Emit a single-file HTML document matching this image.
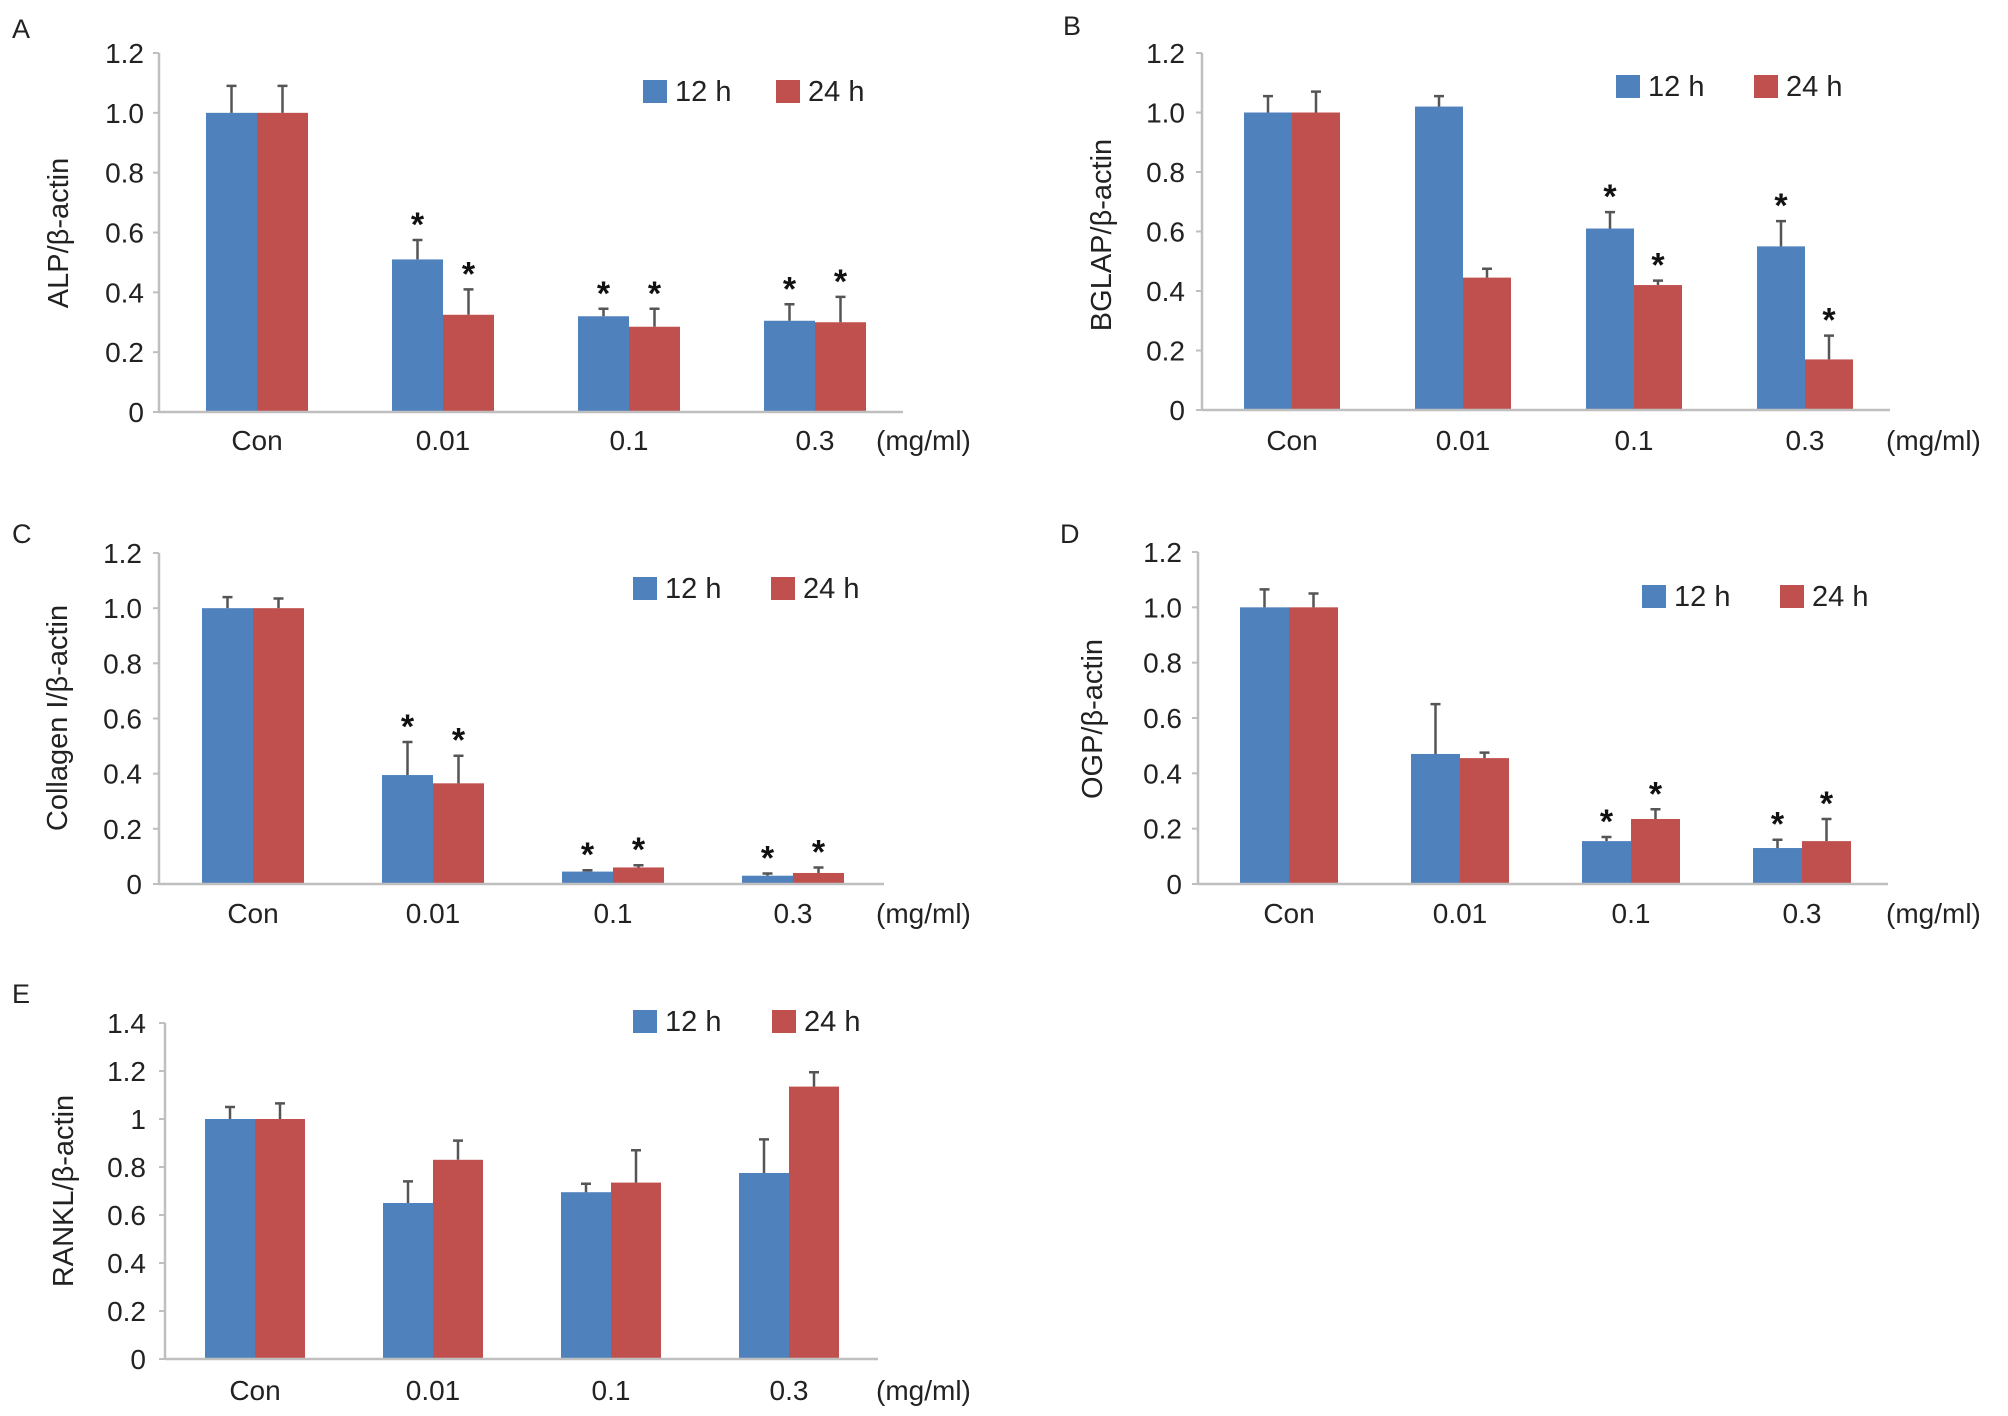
<!DOCTYPE html>
<html><head><meta charset="utf-8"><style>
html,body{margin:0;padding:0;background:#fff;}
svg{display:block;font-family:"Liberation Sans",Arial,sans-serif;}
</style></head><body>
<svg id="fig" width="2008" height="1416" viewBox="0 0 2008 1416" xmlns="http://www.w3.org/2000/svg"></svg>
<script>
const categories = ["Con","0.01","0.1","0.3"];
// Panel A
const aBlue = [1.0,0.51,0.32,0.305];
const aBlueErr = [0.09,0.065,0.025,0.055];
const aRed = [1.0,0.325,0.285,0.30];
const aRedErr = [0.09,0.085,0.06,0.085];
const aBlueStar = [false,true,true,true];
const aRedStar = [false,true,true,true];
const aTicks = ["0","0.2","0.4","0.6","0.8","1.0","1.2"];
// Panel B
const bBlue = [1.0,1.02,0.61,0.55];
const bBlueErr = [0.055,0.035,0.055,0.085];
const bRed = [1.0,0.445,0.42,0.17];
const bRedErr = [0.07,0.03,0.015,0.08];
const bBlueStar = [false,false,true,true];
const bRedStar = [false,false,true,true];
const bTicks = ["0","0.2","0.4","0.6","0.8","1.0","1.2"];
// Panel C
const cBlue = [1.0,0.395,0.045,0.03];
const cBlueErr = [0.04,0.12,0.005,0.008];
const cRed = [1.0,0.365,0.06,0.04];
const cRedErr = [0.035,0.10,0.008,0.02];
const cBlueStar = [false,true,true,true];
const cRedStar = [false,true,true,true];
const cTicks = ["0","0.2","0.4","0.6","0.8","1.0","1.2"];
// Panel D
const dBlue = [1.0,0.47,0.155,0.13];
const dBlueErr = [0.065,0.18,0.015,0.03];
const dRed = [1.0,0.455,0.235,0.155];
const dRedErr = [0.05,0.02,0.035,0.08];
const dBlueStar = [false,false,true,true];
const dRedStar = [false,false,true,true];
const dTicks = ["0","0.2","0.4","0.6","0.8","1.0","1.2"];
// Panel E
const eBlue = [1.0,0.65,0.695,0.775];
const eBlueErr = [0.05,0.09,0.035,0.14];
const eRed = [1.0,0.83,0.735,1.135];
const eRedErr = [0.065,0.08,0.135,0.06];
const eBlueStar = [false,false,false,false];
const eRedStar = [false,false,false,false];
const eTicks = ["0","0.2","0.4","0.6","0.8","1","1.2","1.4"];
const seriesNames = ["12 h","24 h"];

const NS="http://www.w3.org/2000/svg";
const svg=document.getElementById('fig');
function mk(tag,attrs,parent,text){const e=document.createElementNS(NS,tag);for(const k in attrs)e.setAttribute(k,attrs[k]);if(text!==undefined)e.textContent=text;(parent||svg).appendChild(e);return e;}
const BLUE="#4f81bd",RED="#c0504d",AX="#bfbfbf";

function panel(p){
  const g=mk('g',{});
  
  
  const maxV=(p.ticks.length-1)*0.2;
  const y=v=>p.base-(v/maxV)*(p.base-p.top);
  const cx=i=>p.c0+i*p.step;
  const lt=mk('text',{x:p.lx,y:p.ly,'font-size':27,fill:'#222'},g,p.letter);
  
  
  const ya=mk('line',{x1:p.ax,y1:p.top,x2:p.ax,y2:p.base,stroke:AX,'stroke-width':2.5},g);
  
  
  p.ticks.forEach((t,i)=>{
    const v=i*0.2;
    mk('line',{x1:p.ax-6,y1:y(v),x2:p.ax,y2:y(v),stroke:AX,'stroke-width':2},g);
    const tt=mk('text',{x:p.tx,y:y(v)+10,'font-size':28,'text-anchor':'end',fill:'#222'},g,t);
    
    
  });
  const yt=mk('text',{x:0,y:0,'font-size':29,'text-anchor':'middle',fill:'#222',transform:`translate(${p.ytx},${p.yty}) rotate(-90)`},g,p.ytitle);
  
  
  const series=[[p.blue,p.blueErr,p.blueStar,BLUE,-1],[p.red,p.redErr,p.redStar,RED,0]];
  series.forEach((s,si)=>{
    s[0].forEach((v,i)=>{
      const x=cx(i)+s[4]*p.bw;
      const r=mk('rect',{x:x,y:y(v),width:p.bw,height:p.base-y(v),fill:s[3]},g);
      
      
      const m=x+p.bw/2, te=y(v+s[1][i]);
      const eb=mk('path',{d:`M${m},${y(v)}V${te}M${m-5},${te}H${m+5}`,stroke:'#555','stroke-width':2.5,fill:'none'},g);
      
      
      if(s[2][i]){
        const st=mk('text',{x:m,y:te-4,'font-size':34,'font-weight':'bold','text-anchor':'middle',fill:'#111'},g,'*');
        
        
      }
    });
  });
  const xa=mk('line',{x1:p.ax,y1:p.base,x2:p.xend,y2:p.base,stroke:AX,'stroke-width':2.5},g);
  
  
  categories.forEach((c,i)=>{
    const ct=mk('text',{x:cx(i),y:p.cy+10,'font-size':28,'text-anchor':'middle',fill:'#222'},g,c);
    
    
  });
  const un=mk('text',{x:p.ux,y:p.cy+10,'font-size':28,fill:'#222'},g,'(mg/ml)');
  
  
  [[p.lg[0],BLUE,seriesNames[0]],[p.lg[1],RED,seriesNames[1]]].forEach((l,i)=>{
    const lg=mk('g',{},g);
    
    
    mk('rect',{x:l[0],y:p.lgy,width:24,height:23,fill:l[1]},lg);
    mk('text',{x:l[0]+32,y:p.lgy+21,'font-size':29,fill:'#222'},lg,l[2]);
  });
}
panel({letter:'A',lx:12,ly:38,ax:159,top:53,base:412,xend:903,tx:144,ytx:68,yty:233,ytitle:'ALP/β-actin',
  c0:257,step:186,bw:51,cy:440,ux:876,lg:[643,776],lgy:80,
  blue:aBlue,blueErr:aBlueErr,red:aRed,redErr:aRedErr,blueStar:aBlueStar,redStar:aRedStar,ticks:aTicks});
panel({letter:'B',lx:1063,ly:35,ax:1202,top:53,base:410,xend:1890,tx:1185,ytx:1111,yty:235,ytitle:'BGLAP/β-actin',
  c0:1292,step:171,bw:48,cy:440,ux:1886,lg:[1616,1754],lgy:75,
  blue:bBlue,blueErr:bBlueErr,red:bRed,redErr:bRedErr,blueStar:bBlueStar,redStar:bRedStar,ticks:bTicks});
panel({letter:'C',lx:12,ly:543,ax:159,top:553,base:884,xend:884,tx:142,ytx:67,yty:718,ytitle:'Collagen I/β-actin',
  c0:253,step:180,bw:51,cy:913,ux:876,lg:[633,771],lgy:577,
  blue:cBlue,blueErr:cBlueErr,red:cRed,redErr:cRedErr,blueStar:cBlueStar,redStar:cRedStar,ticks:cTicks});
panel({letter:'D',lx:1060,ly:543,ax:1198,top:552,base:884,xend:1888,tx:1182,ytx:1102,yty:719,ytitle:'OGP/β-actin',
  c0:1289,step:171,bw:49,cy:913,ux:1886,lg:[1642,1780],lgy:585,
  blue:dBlue,blueErr:dBlueErr,red:dRed,redErr:dRedErr,blueStar:dBlueStar,redStar:dRedStar,ticks:dTicks});
panel({letter:'E',lx:12,ly:1003,ax:165,top:1023,base:1359,xend:878,tx:146,ytx:73,yty:1191,ytitle:'RANKL/β-actin',
  c0:255,step:178,bw:50,cy:1390,ux:876,lg:[633,772],lgy:1010,
  blue:eBlue,blueErr:eBlueErr,red:eRed,redErr:eRedErr,blueStar:eBlueStar,redStar:eRedStar,ticks:eTicks});
</script>
</body></html>
